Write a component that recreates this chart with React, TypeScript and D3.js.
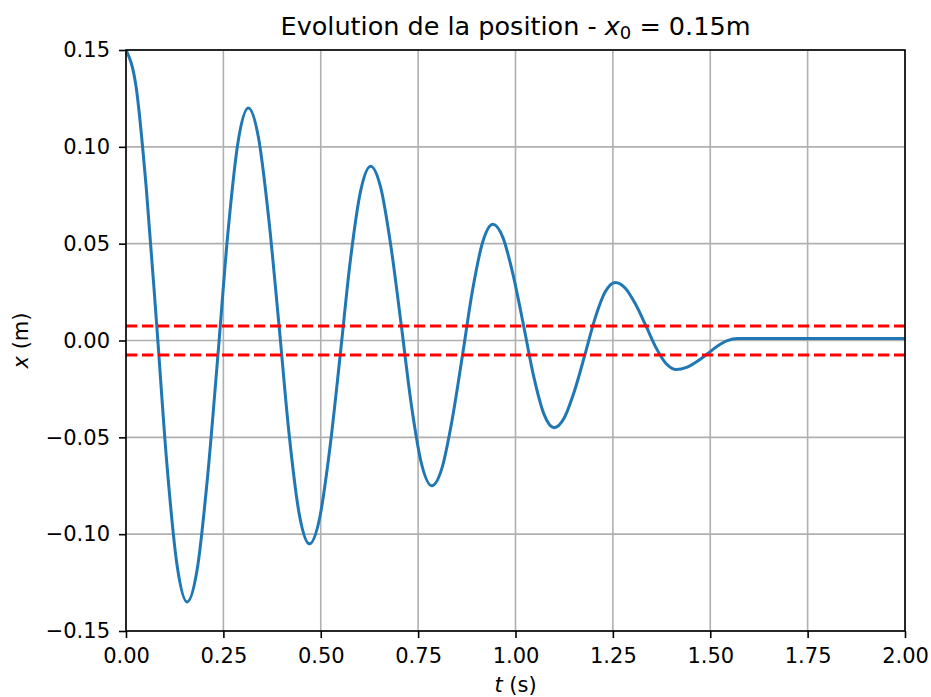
import { useEffect, useRef } from "react";
import * as d3 from "d3";

// temps (s) et position (m)
const timeValues = [
  0, 0.026, 0.052, 0.079, 0.105, 0.131, 0.157,
  0.183, 0.209, 0.236, 0.262, 0.288, 0.314,
  0.34, 0.366, 0.393, 0.419, 0.445, 0.471,
  0.497, 0.523, 0.55, 0.576, 0.602, 0.628,
  0.654, 0.68, 0.707, 0.733, 0.759, 0.785,
  0.811, 0.837, 0.864, 0.89, 0.916, 0.942,
  0.968, 0.994, 1.021, 1.047, 1.073, 1.099,
  1.125, 1.151, 1.178, 1.204, 1.23, 1.256,
  1.282, 1.308, 1.335, 1.361, 1.387, 1.413,
  1.439, 1.465, 1.492, 1.518, 1.544, 1.57,
  2.0,
];
const positionValues = [
  0.15, 0.1309, 0.0788, 0.0075, -0.0638, -0.1159, -0.135,
  -0.1179, -0.0713, -0.0075, 0.0563, 0.1029, 0.12,
  0.1049, 0.0638, 0.0075, -0.0488, -0.0899, -0.105,
  -0.0919, -0.0563, -0.0075, 0.0413, 0.0769, 0.09,
  0.0789, 0.0488, 0.0075, -0.0338, -0.0639, -0.075,
  -0.066, -0.0413, -0.0075, 0.0263, 0.051, 0.06,
  0.053, 0.0338, 0.0075, -0.0188, -0.038, -0.045,
  -0.04, -0.0263, -0.0075, 0.0113, 0.025, 0.03,
  0.027, 0.0188, 0.0075, -0.0038, -0.012, -0.015,
  -0.0139, -0.011, -0.007, -0.003, -0.0001, 0.001,
  0.001,
];
// seuils en pointillés rouges
const thresholdValues = [0.0075, -0.0075];

const xTicks = [0, 0.25, 0.5, 0.75, 1, 1.25, 1.5, 1.75, 2];
const yTicks = [-0.15, -0.1, -0.05, 0, 0.05, 0.1, 0.15];

const App = () => {
  const chartRef = useRef<SVGSVGElement>(null);

  useEffect(() => {
    const width = 931;
    const height = 697;
    const margin = { top: 50, right: 26, bottom: 66, left: 126 };
    const font = "DejaVu Sans, sans-serif";

    const svg = d3.select(chartRef.current);
    svg.selectAll("*").remove();

    const xScale = d3.scaleLinear()
      .domain([0, 2])
      .range([margin.left, width - margin.right]);

    const yScale = d3.scaleLinear()
      .domain([-0.15, 0.15])
      .range([height - margin.bottom, margin.top]);

    const [x0, x1] = xScale.range();
    const [y0, y1] = yScale.range();

    svg.append("rect")
      .attr("width", width)
      .attr("height", height)
      .attr("fill", "white");

    svg.append("clipPath")
      .attr("id", "plot-clip")
      .append("rect")
      .attr("x", x0)
      .attr("y", y1)
      .attr("width", x1 - x0)
      .attr("height", y0 - y1);

    // grille
    svg.append("g")
      .selectAll("line")
      .data(xTicks)
      .enter()
      .append("line")
      .attr("x1", d => xScale(d))
      .attr("x2", d => xScale(d))
      .attr("y1", y0)
      .attr("y2", y1)
      .attr("stroke", "#b0b0b0")
      .attr("stroke-width", 1.6);

    svg.append("g")
      .selectAll("line")
      .data(yTicks)
      .enter()
      .append("line")
      .attr("x1", x0)
      .attr("x2", x1)
      .attr("y1", d => yScale(d))
      .attr("y2", d => yScale(d))
      .attr("stroke", "#b0b0b0")
      .attr("stroke-width", 1.6);

    // courbe de position
    const points = timeValues.map((t, i) => [t, positionValues[i]] as [number, number]);
    const line = d3.line<[number, number]>()
      .x(d => xScale(d[0]))
      .y(d => yScale(d[1]))
      .curve(d3.curveMonotoneX);

    svg.append("path")
      .datum(points)
      .attr("clip-path", "url(#plot-clip)")
      .attr("d", line)
      .attr("fill", "none")
      .attr("stroke", "#1f77b4")
      .attr("stroke-width", 3)
      .attr("stroke-linejoin", "round");

    // seuils
    svg.append("g")
      .selectAll("line")
      .data(thresholdValues)
      .enter()
      .append("line")
      .attr("x1", x0)
      .attr("x2", x1)
      .attr("y1", d => yScale(d))
      .attr("y2", d => yScale(d))
      .attr("stroke", "red")
      .attr("stroke-width", 3)
      .attr("stroke-dasharray", "11.2,4.8");

    // axes
    const xAxis = svg.append("g")
      .attr("transform", `translate(0,${y0})`)
      .call(d3.axisBottom(xScale).tickValues(xTicks).tickFormat(d3.format(".2f")).tickSizeInner(7).tickSizeOuter(0).tickPadding(10));
    const yAxis = svg.append("g")
      .attr("transform", `translate(${x0},0)`)
      .call(d3.axisLeft(yScale).tickValues(yTicks).tickFormat(d => d3.format(".2f")(d as number).replace("-", "\u2212")).tickSizeInner(7).tickSizeOuter(0).tickPadding(9));

    [xAxis, yAxis].forEach(g => {
      g.select(".domain").remove();
      g.selectAll(".tick line").attr("stroke", "black").attr("stroke-width", 1.6);
      g.selectAll(".tick text")
        .attr("fill", "black")
        .style("font-family", font)
        .style("font-size", "21px");
    });

    // cadre
    svg.append("rect")
      .attr("x", x0)
      .attr("y", y1)
      .attr("width", x1 - x0)
      .attr("height", y0 - y1)
      .attr("fill", "none")
      .attr("stroke", "black")
      .attr("stroke-width", 1.6);

    // titre
    const title = svg.append("text")
      .attr("x", (x0 + x1) / 2)
      .attr("y", 35)
      .attr("text-anchor", "middle")
      .style("font-family", font)
      .style("font-size", "25.5px");
    title.append("tspan").text("Evolution de la position - ");
    title.append("tspan").attr("font-style", "italic").text("x");
    title.append("tspan").attr("font-size", "18px").attr("dy", 4).text("0");
    title.append("tspan").attr("dy", -4).text(" = 0.15m");

    // étiquette x
    const xLabel = svg.append("text")
      .attr("x", (x0 + x1) / 2)
      .attr("y", 692)
      .attr("text-anchor", "middle")
      .style("font-family", font)
      .style("font-size", "21px");
    xLabel.append("tspan").attr("font-style", "italic").text("t");
    xLabel.append("tspan").text(" (s)");

    // étiquette y
    const yLabel = svg.append("text")
      .attr("transform", `translate(28,${(y0 + y1) / 2}) rotate(-90)`)
      .attr("text-anchor", "middle")
      .style("font-family", font)
      .style("font-size", "21px");
    yLabel.append("tspan").attr("font-style", "italic").text("x");
    yLabel.append("tspan").text(" (m)");
  }, []);

  return (
    <svg
      ref={chartRef}
      width={931}
      height={697}
      style={{ position: "absolute", left: 0, top: 0 }}
    />
  );
};

export default App;
